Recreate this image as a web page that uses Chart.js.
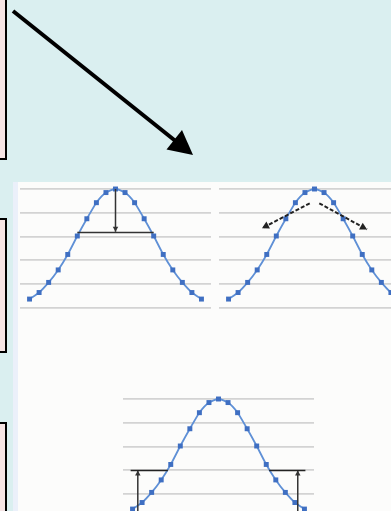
<!DOCTYPE html>
<html>
<head>
<meta charset="utf-8">
<script src="https://cdn.jsdelivr.net/npm/chart.js@4/dist/chart.umd.min.js"></script>
<style>
  html,body{margin:0;padding:0;}
  body{width:391px;height:511px;overflow:hidden;position:relative;background:#daeff0;font-family:"Liberation Sans",Arial,sans-serif;}
  .box{position:absolute;box-sizing:border-box;background:#f5e4e4;border:2px solid #000;}
  .panel{position:absolute;left:13px;top:182px;right:0;bottom:0;background:#fcfcfb;border-left:5px solid #ebf0fa;}
  canvas{position:absolute;}
  svg{position:absolute;left:0;top:0;}
</style>
</head>
<body>
<div class="box" style="left:-10px;top:-10px;width:17px;height:170px"></div>
<div class="box" style="left:-10px;top:218px;width:17px;height:135px"></div>
<div class="box" style="left:-10px;top:422px;width:17px;height:200px"></div>
<div class="panel"></div>
<svg width="391" height="511">
  <line x1="13" y1="11" x2="178" y2="143" stroke="#000" stroke-width="4"/>
  <polygon points="193,155 166.5,149.5 182,130" fill="#000"/>
</svg>
<canvas id="c1" width="207" height="135" style="left:12px;top:181px"></canvas>
<canvas id="c2" width="207" height="135" style="left:211px;top:181px"></canvas>
<canvas id="c3" width="207" height="135" style="left:115px;top:391px"></canvas>
<script>
// ---- data ----
const xIndex  = [0,1,2,3,4,5,6,7,8,9,10,11,12,13,14,15,16,17,18];
const yValues = [7.5,13,21.5,32,45,60.5,75,88.5,97,100,97,88.5,75,60.5,45,32,21.5,13,7.5];
const yTicks  = [0,20,40,60,80,100];

// chart 1 annotations (peak height arrow and width line)
const c1ArrowX = [9,9],      c1ArrowY = [100,64];
const c1WidthX = [5,13],     c1WidthY = [63.5,63.5];
// chart 2 annotations (two slope arrows)
const c2LeftX  = [8.5,3.5],  c2LeftY  = [88,67];
const c2RightX = [9.5,14.5], c2RightY = [88,66];
// chart 3 annotations (threshold lines and upward arrows)
const c3LineLX = [-0.2,3.7], c3LineLY = [40,40];
const c3LineRX = [14.3,18.1],c3LineRY = [40,40];
const c3ArrLX  = [0.55,0.55],c3ArrLY  = [-8,40];
const c3ArrRX  = [17.3,17.3],c3ArrRY  = [-8,40];

function pts(xs, ys){ return xs.map((x,i)=>({x:x, y:ys[i]})); }

const arrowPlugin = {
  id:'arrowHeads',
  afterDatasetsDraw(chart){
    const ctx = chart.ctx;
    chart.data.datasets.forEach((ds,i)=>{
      if(!ds.arrowHead) return;
      const el = chart.getDatasetMeta(i).data;
      const a = el[el.length-2], b = el[el.length-1];
      const ang = Math.atan2(b.y-a.y, b.x-a.x);
      const L = ds.arrowHead, W = L*0.55;
      const bx = b.x - L*Math.cos(ang), by = b.y - L*Math.sin(ang);
      ctx.save();
      ctx.fillStyle = ds.borderColor;
      ctx.beginPath();
      ctx.moveTo(b.x,b.y);
      ctx.lineTo(bx + W*Math.sin(ang), by - W*Math.cos(ang));
      ctx.lineTo(bx - W*Math.sin(ang), by + W*Math.cos(ang));
      ctx.closePath();
      ctx.fill();
      ctx.restore();
    });
  }
};

function curveDataset(){
  return {
    data: pts(xIndex, yValues),
    borderColor:'#5f90d6', borderWidth:1.8,
    pointStyle:'rect', pointRadius:3.5, pointBorderWidth:0,
    pointBackgroundColor:'#3f6fc2',
    tension:0.2, clip:false, order:1
  };
}
function annot(xs, ys, opts){
  return Object.assign({
    data: pts(xs, ys), borderColor:'#222', borderWidth:1.5,
    pointRadius:0, tension:0, clip:false, order:0
  }, opts||{});
}

function makeChart(id, extra){
  return new Chart(document.getElementById(id), {
    type:'line',
    data:{ datasets:[curveDataset()].concat(extra) },
    options:{
      responsive:false, animation:false, devicePixelRatio:1,
      layout:{padding:8},
      plugins:{legend:{display:false}, tooltip:{enabled:false}},
      scales:{
        x:{type:'linear', min:-1, max:19, display:false},
        y:{min:0, max:100,
           afterBuildTicks(axis){ axis.ticks = yTicks.map(v=>({value:v})); },
           ticks:{display:false},
           grid:{color:'#d3d3d3', lineWidth:1.8, drawTicks:false},
           border:{display:false}}
      }
    },
    plugins:[arrowPlugin]
  });
}

makeChart('c1', [
  annot(c1ArrowX, c1ArrowY, {arrowHead:5, borderColor:'#333'}),
  annot(c1WidthX, c1WidthY, {borderColor:'#333'})
]);
makeChart('c2', [
  annot(c2LeftX, c2LeftY, {arrowHead:7, borderDash:[4,2], borderWidth:2}),
  annot(c2RightX, c2RightY, {arrowHead:7, borderDash:[4,2], borderWidth:2})
]);
makeChart('c3', [
  annot(c3LineLX, c3LineLY),
  annot(c3LineRX, c3LineRY),
  annot(c3ArrLX, c3ArrLY, {arrowHead:5, borderColor:'#333'}),
  annot(c3ArrRX, c3ArrRY, {arrowHead:5, borderColor:'#333'})
]);
</script>
</body>
</html>
